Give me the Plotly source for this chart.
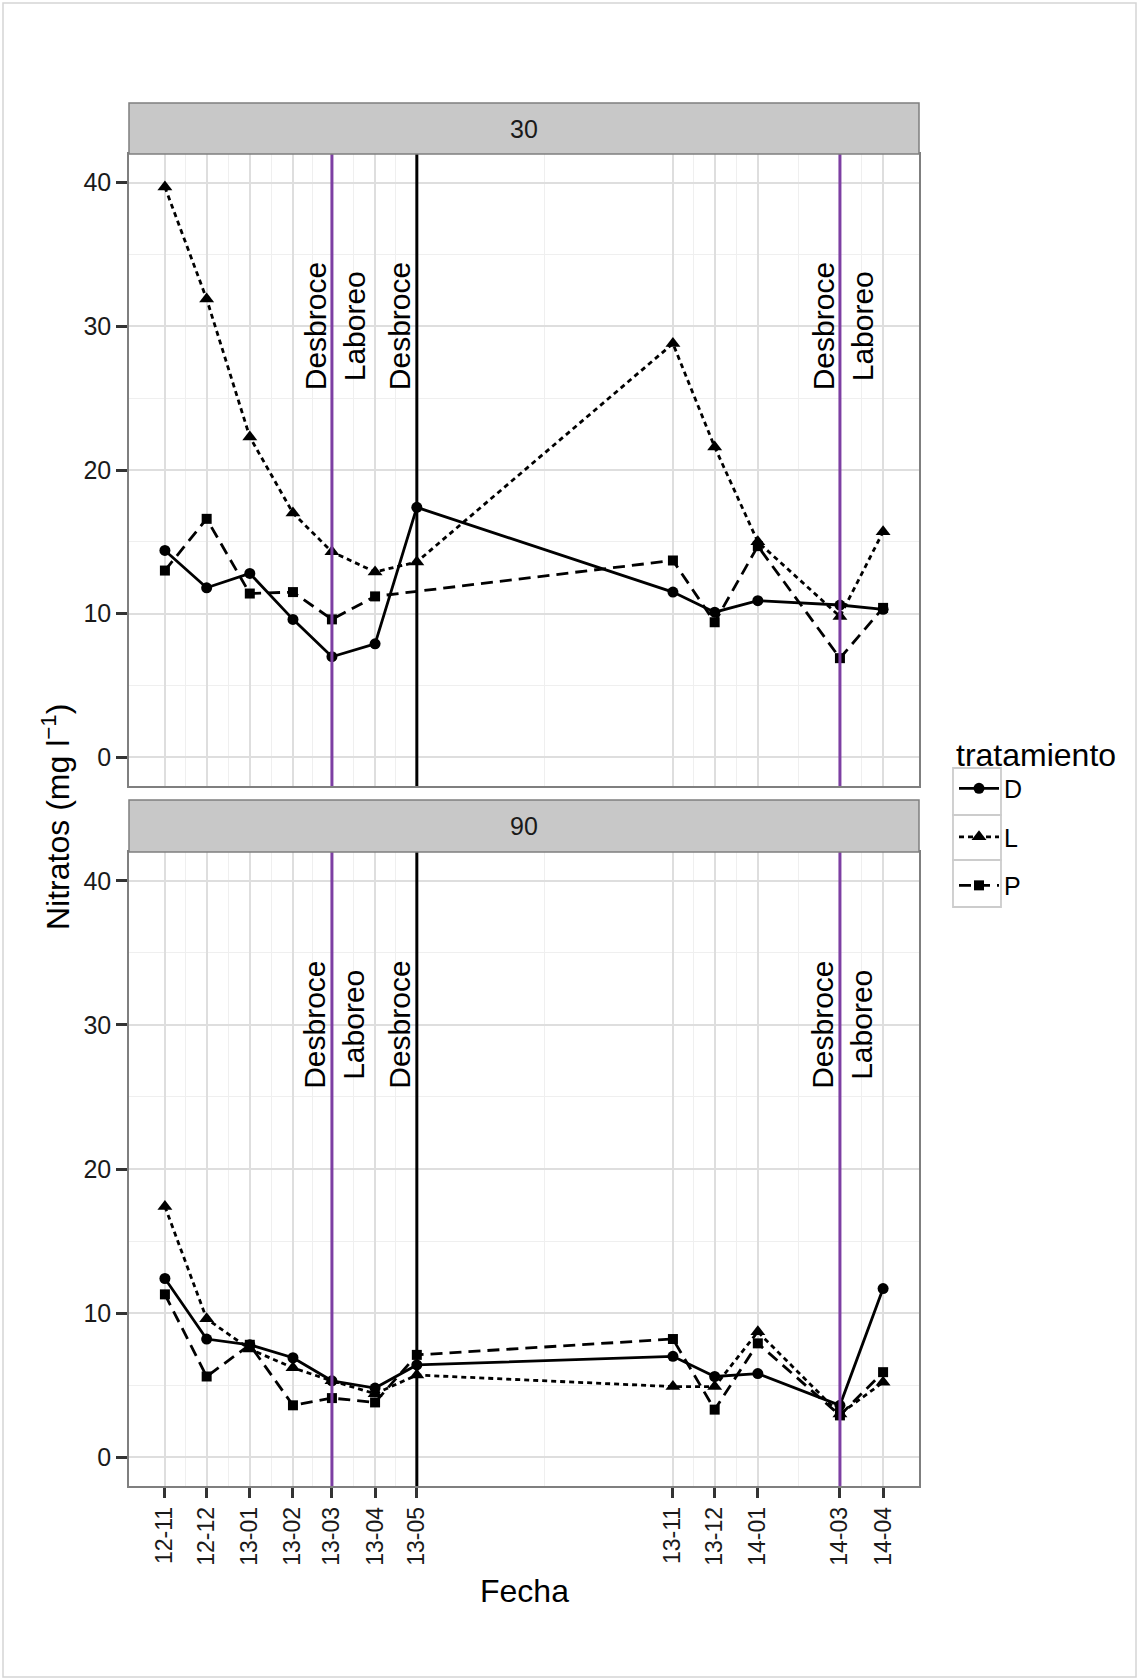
import pandas as pd
import plotly.graph_objects as go

# ---------------- data ----------------
fechas = ["2012-11-15", "2012-12-15", "2013-01-15", "2013-02-15", "2013-03-15",
          "2013-04-15", "2013-05-15", "2013-11-15", "2013-12-15", "2014-01-15",
          "2014-03-15", "2014-04-15"]

D30 = [14.4, 11.8, 12.8, 9.6, 7.0, 7.9, 17.4, 11.5, 10.1, 10.9, 10.6, 10.3]
L30 = [39.7, 31.9, 22.3, 17.0, 14.3, 12.9, 13.6, 28.8, 21.6, 15.0, 9.8, 15.7]
P30 = [13.0, 16.6, 11.4, 11.5, 9.6, 11.2, None, 13.7, 9.4, 14.7, 6.9, 10.4]

D90 = [12.4, 8.2, 7.8, 6.9, 5.3, 4.8, 6.4, 7.0, 5.6, 5.8, 3.6, 11.7]
L90 = [17.4, 9.6, 7.5, 6.2, 5.3, 4.4, 5.7, 4.9, 4.9, 8.7, 3.0, 5.2]
P90 = [11.3, 5.6, 7.8, 3.6, 4.1, 3.8, 7.1, 8.2, 3.3, 7.9, 2.9, 5.9]

paneles = ["30", "90"]
tratamientos = ["D", "L", "P"]

eventos_fecha = ["2013-03-15", "2013-05-15", "2014-03-15"]
eventos_tipo = ["purple", "black", "purple"]

etiquetas_fecha = ["2013-03-15", "2013-03-15", "2013-05-15", "2014-03-15", "2014-03-15"]
etiquetas_texto = ["Desbroce", "Laboreo", "Desbroce", "Desbroce", "Laboreo"]
etiqueta_y = 30

y_ticks = [0, 10, 20, 30, 40]

valores = {"30": {"D": D30, "L": L30, "P": P30},
           "90": {"D": D90, "L": L90, "P": P90}}

# ---------------- styles ----------------
FONT = "Liberation Sans, Arial, Helvetica, sans-serif"
PURPLE = "#7D3FA3"
estilo = {
    "D": dict(dash="solid", symbol="circle", size=11),
    "L": dict(dash="5px,4px", symbol="triangle-up", size=13),
    "P": dict(dash="12px,7px", symbol="square", size=10),
}

W, H = 1139, 1680
L_, R_, T_, B_ = 129, 919, 154, 1486
pw, ph = R_ - L_, B_ - T_


def px_x(p):
    return (p - L_) / pw


def px_y(p):
    return (B_ - p) / ph


dates = pd.to_datetime(fechas)
span = dates.max() - dates.min()
xrange_ = [dates.min() - 0.05 * span, dates.max() + 0.05 * span]
mids = [dates[i] + (dates[i + 1] - dates[i]) / 2 for i in range(len(dates) - 1)]

fig = go.Figure()
axes = {"30": ("x", "y"), "90": ("x2", "y2")}

for panel in paneles:
    xa, ya = axes[panel]
    for t in tratamientos:
        st = estilo[t]
        fig.add_trace(go.Scatter(
            x=dates, y=valores[panel][t], mode="lines+markers",
            name=t, legendgroup=t, showlegend=(panel == "30"),
            connectgaps=True,
            line=dict(color="black", width=2.8, dash=st["dash"]),
            marker=dict(symbol=st["symbol"], size=st["size"], color="black",
                        line=dict(width=0)),
            xaxis=xa, yaxis=ya,
        ))

shapes = []
annotations = []
top_dom = [px_y(786), 1.0]
bot_dom = [0.0, px_y(852)]

for panel in paneles:
    xa, ya = axes[panel]
    for f, c in zip(eventos_fecha, eventos_tipo):
        shapes.append(dict(type="line", xref=xa, yref=ya + " domain",
                           x0=f, x1=f, y0=0, y1=1, layer="above",
                           line=dict(color=PURPLE if c == "purple" else "black", width=3)))
    for f, txt in zip(etiquetas_fecha, etiquetas_texto):
        annotations.append(dict(xref=xa, yref=ya, x=f, y=etiqueta_y, text=txt,
                                textangle=-90, showarrow=False,
                                xshift=-17 if txt == "Desbroce" else 22,
                                font=dict(family=FONT, size=30, color="black")))

# strips
for panel, (y0p, y1p) in zip(paneles, [(154, 103), (852, 800)]):
    shapes.append(dict(type="rect", xref="paper", yref="paper",
                       x0=0, x1=1, y0=px_y(y0p), y1=px_y(y1p),
                       fillcolor="#C8C8C8", line=dict(color="#7F7F7F", width=1.5),
                       layer="above"))
    annotations.append(dict(xref="paper", yref="paper", x=0.5,
                            y=(px_y(y0p) + px_y(y1p)) / 2, text=panel,
                            showarrow=False, xanchor="center", yanchor="middle",
                            font=dict(family=FONT, size=25, color="#1a1a1a")))

# legend key boxes
for y0p, y1p in [(768, 815), (815, 860), (860, 907)]:
    shapes.append(dict(type="rect", xref="paper", yref="paper",
                       x0=px_x(953), x1=px_x(1001), y0=px_y(y1p), y1=px_y(y0p),
                       line=dict(color="#CCCCCC", width=1.8), layer="below"))

# outer frame
shapes.append(dict(type="rect", xref="paper", yref="paper",
                   x0=px_x(3), x1=px_x(1136), y0=px_y(1677), y1=px_y(3),
                   line=dict(color="#D5D5D5", width=1.5), layer="below"))

# axis titles
annotations.append(dict(xref="paper", yref="paper", x=px_x(56), y=px_y(817),
                        text="Nitratos (mg l<sup>−1</sup>)", textangle=-90,
                        showarrow=False, xanchor="center", yanchor="middle",
                        font=dict(family=FONT, size=32, color="black")))
annotations.append(dict(xref="paper", yref="paper", x=0.5, y=px_y(1591),
                        text="Fecha", showarrow=False,
                        xanchor="center", yanchor="middle",
                        font=dict(family=FONT, size=32, color="black")))

grid_major = "#DEDEDE"
grid_minor = "#EFEFEF"
common_x = dict(type="date", range=xrange_, tickvals=dates, tickformat="%y-%m",
                showgrid=True, gridcolor=grid_major, gridwidth=1.5,
                minor=dict(tickvals=mids, showgrid=True, gridcolor=grid_minor,
                           gridwidth=1.3, ticks=""),
                zeroline=False, showline=True, mirror=True,
                linecolor="#7F7F7F", linewidth=1.5)
common_y = dict(range=[-2, 42], tickvals=y_ticks, showgrid=True,
                gridcolor=grid_major, gridwidth=1.5,
                minor=dict(dtick=5, showgrid=True, gridcolor=grid_minor,
                           gridwidth=1.3, ticks=""),
                zeroline=False, showline=True, mirror=True,
                linecolor="#7F7F7F", linewidth=1.5,
                ticks="outside", ticklen=11, tickwidth=2.5, tickcolor="#333333",
                tickfont=dict(family=FONT, size=25, color="#1a1a1a"))

fig.update_layout(
    width=W, height=H,
    margin=dict(l=L_, r=W - R_, t=T_, b=H - B_, pad=0, autoexpand=False),
    paper_bgcolor="white", plot_bgcolor="white",
    font=dict(family=FONT, color="black"),
    xaxis=dict(**common_x, anchor="y", domain=[0, 1], matches="x2",
               showticklabels=False, ticks=""),
    xaxis2=dict(**common_x, anchor="y2", domain=[0, 1],
                ticks="outside", ticklen=10, tickwidth=2.5, tickcolor="#333333",
                tickangle=-90,
                tickfont=dict(family=FONT, size=23, color="#1a1a1a")),
    yaxis=dict(**common_y, anchor="x", domain=top_dom),
    yaxis2=dict(**common_y, anchor="x2", domain=bot_dom),
    shapes=shapes,
    annotations=annotations,
    showlegend=True,
    legend=dict(
        x=px_x(954), y=px_y(724), xanchor="left", yanchor="top",
        title=dict(text="tratamiento", font=dict(family=FONT, size=32, color="black")),
        font=dict(family=FONT, size=25, color="black"),
        traceorder="grouped", tracegroupgap=13,
        bgcolor="rgba(0,0,0,0)", borderwidth=0, itemwidth=40,
    ),
)

fig.write_html("out.html", config={"displayModeBar": False},
               post_script="document.body.style.margin='0';document.body.style.padding='0';")
